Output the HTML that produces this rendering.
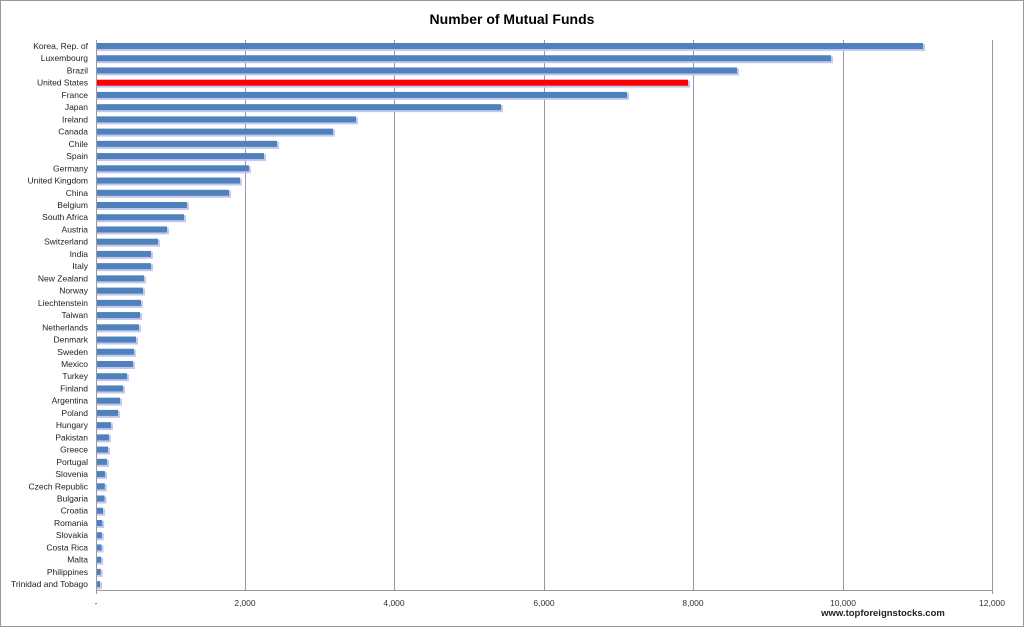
<!DOCTYPE html>
<html><head><meta charset="utf-8"><style>
body{margin:0;background:#fff}
svg{display:block;font-family:"Liberation Sans",sans-serif}
</style></head><body>
<svg width="1024" height="627" viewBox="0 0 1024 627" xmlns="http://www.w3.org/2000/svg">
<rect x="0.5" y="0.5" width="1023" height="626" fill="#fff" stroke="#999"/>
<text x="512" y="24" text-anchor="middle" font-size="14" font-weight="bold" fill="#000">Number of Mutual Funds</text>
<g stroke="#999" stroke-width="1">
<line x1="245.5" y1="40" x2="245.5" y2="590"/>
<line x1="394.5" y1="40" x2="394.5" y2="590"/>
<line x1="544.5" y1="40" x2="544.5" y2="590"/>
<line x1="693.5" y1="40" x2="693.5" y2="590"/>
<line x1="843.5" y1="40" x2="843.5" y2="590"/>
<line x1="992.5" y1="40" x2="992.5" y2="594"/>
<line x1="96.5" y1="40" x2="96.5" y2="594"/>
<line x1="96" y1="590.5" x2="993" y2="590.5"/>
</g>
<g font-size="8.5" fill="#333" text-anchor="middle">
<text x="96" y="606">-</text><text x="245" y="606">2,000</text><text x="394" y="606">4,000</text><text x="544" y="606">6,000</text><text x="693" y="606">8,000</text><text x="843" y="606">10,000</text><text x="992" y="606">12,000</text>
</g>
<text x="883" y="616" text-anchor="middle" font-size="9.5" font-weight="bold" fill="#222">www.topforeignstocks.com</text>
<g id="bars"></g>
<g id="labels" font-size="8.5" fill="#222" text-anchor="end"></g>
<script>
var d=[["Korea, Rep. of",11062],["Luxembourg",9830],["Brazil",8571],["United States",7915],["France",7098],["Japan",5410],["Ireland",3469],["Canada",3160],["Chile",2411],["Spain",2236],["Germany",2035],["United Kingdom",1915],["China",1768],["Belgium",1205],["South Africa",1165],["Austria",937],["Switzerland",817],["India",723],["Italy",723],["New Zealand",629],["Norway",616],["Liechtenstein",589],["Taiwan",576],["Netherlands",562],["Denmark",522],["Sweden",495],["Mexico",482],["Turkey",402],["Finland",348],["Argentina",308],["Poland",281],["Hungary",187],["Pakistan",160],["Greece",147],["Portugal",134],["Slovenia",107],["Czech Republic",104],["Bulgaria",100],["Croatia",80],["Romania",70],["Slovakia",65],["Costa Rica",60],["Malta",55],["Philippines",50],["Trinidad and Tobago",40]];
var ns="http://www.w3.org/2000/svg",b=document.getElementById("bars"),l=document.getElementById("labels");
d.forEach(function(r,i){var y=46+i*12.23,w=r[1]*0.07467;
var s=document.createElementNS(ns,"rect");s.setAttribute("x",97);s.setAttribute("y",y-2);s.setAttribute("width",w+2);s.setAttribute("height",7);s.setAttribute("fill","#c3c8ee");b.appendChild(s);
var t=document.createElementNS(ns,"rect");t.setAttribute("x",97);t.setAttribute("y",y-3);t.setAttribute("width",w);t.setAttribute("height",6);t.setAttribute("fill",i==3?"#ff0000":"#4f81bd");b.appendChild(t);
var x=document.createElementNS(ns,"text");x.setAttribute("x",88);x.setAttribute("y",y+3);x.textContent=r[0];l.appendChild(x);});
</script>
</svg>
</body></html>
